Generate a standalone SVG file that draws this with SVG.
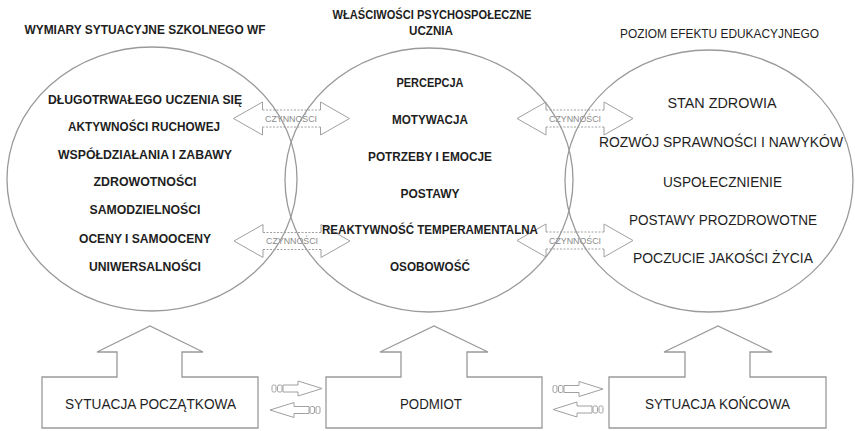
<svg xmlns="http://www.w3.org/2000/svg" width="855" height="431" viewBox="0 0 855 431">
<style>
  .circ{fill:none;stroke:#9a9a9a;stroke-width:1.3}
  .box{fill:none;stroke:#9a9a9a;stroke-width:1.3;stroke-linejoin:miter}
  .t{font-family:"Liberation Sans",Arial,sans-serif;fill:#1e1e1e;text-anchor:middle;text-transform:uppercase}
  .b{font-weight:bold;font-size:12px}
  .r{font-size:14px}
  .lbl{font-family:"Liberation Sans",Arial,sans-serif;font-size:8.5px;fill:#8a8a8a;text-anchor:middle;text-transform:uppercase}
  .ah{fill:none;stroke:#a0a0a0;stroke-width:1}
  .ad{fill:none;stroke:#a0a0a0;stroke-width:1;stroke-dasharray:2 1.5}
  .sa{fill:#fff;stroke:#a0a0a0;stroke-width:1}
</style>
<defs>
  <g id="dbl">
    <path class="ah" d="M-29,-8.5 V-16.5 L-58,0 L-29,16.5 V8.5 M29,-8.5 V-16.5 L58,0 L29,16.5 V8.5"/>
    <path class="ad" d="M-29,-8.5 H29 M-29,8.5 H29"/>
  </g>
  <g id="small">
    <rect class="sa" x="0" y="-3.5" width="4" height="7" rx="1.5"/>
    <rect class="sa" x="5.5" y="-3.5" width="4.5" height="7" rx="1.5"/>
    <path class="sa" d="M11,-3.5 H26 V-7.5 L50,0 L26,7.5 V3.5 H11 Z"/>
  </g>
</defs>

<g id="connectors">
  <use href="#dbl" transform="translate(291.5,118.5)"/>
  <use href="#dbl" transform="translate(575,118.5)"/>
  <use href="#dbl" transform="translate(292,241)"/>
  <use href="#dbl" transform="translate(575,240.5)"/>
  <text class="lbl" x="291" y="121.5" textLength="52" lengthAdjust="spacingAndGlyphs">CZYNNOŚCI</text>
  <text class="lbl" x="575" y="121.5" textLength="52" lengthAdjust="spacingAndGlyphs">CZYNNOŚCI</text>
  <text class="lbl" x="292" y="244" textLength="52" lengthAdjust="spacingAndGlyphs">CZYNNOŚCI</text>
  <text class="lbl" x="575" y="243.5" textLength="52" lengthAdjust="spacingAndGlyphs">CZYNNOŚCI</text>
  <use href="#small" transform="translate(272,388.5)"/>
  <use href="#small" transform="translate(320,410) scale(-1,1)"/>
  <use href="#small" transform="translate(553,389)"/>
  <use href="#small" transform="translate(603,409.5) scale(-1,1)"/>
</g>

<g id="circle-left">
  <ellipse class="circ" cx="152" cy="179" rx="145" ry="132"/>
  <text class="t b" x="145" y="34" textLength="241" lengthAdjust="spacingAndGlyphs">WYMIARY SYTUACYJNE SZKOLNEGO WF</text>
  <text class="t b" x="145" y="104" textLength="194" lengthAdjust="spacingAndGlyphs">DŁUGOTRWAŁEGO UCZENIA SIĘ</text>
  <text class="t b" x="144" y="131" textLength="152" lengthAdjust="spacingAndGlyphs">AKTYWNOŚCI RUCHOWEJ</text>
  <text class="t b" x="145" y="159" textLength="174" lengthAdjust="spacingAndGlyphs">WSPÓŁDZIAŁANIA I ZABAWY</text>
  <text class="t b" x="145" y="186" textLength="103" lengthAdjust="spacingAndGlyphs">ZDROWOTNOŚCI</text>
  <text class="t b" x="145" y="214" textLength="111" lengthAdjust="spacingAndGlyphs">SAMODZIELNOŚCI</text>
  <text class="t b" x="145" y="243" textLength="132" lengthAdjust="spacingAndGlyphs">OCENY I SAMOOCENY</text>
  <text class="t b" x="145" y="271" textLength="112" lengthAdjust="spacingAndGlyphs">UNIWERSALNOŚCI</text>
</g>

<g id="circle-middle">
  <ellipse class="circ" cx="429" cy="180" rx="144" ry="132"/>
  <text class="t b" x="432" y="19" font-size="11.5" textLength="199" lengthAdjust="spacingAndGlyphs">WŁAŚCIWOŚCI PSYCHOSPOŁECZNE</text>
  <text class="t b" x="431" y="35" font-size="11.5" textLength="44" lengthAdjust="spacingAndGlyphs">UCZNIA</text>
  <text class="t b" x="430" y="87" textLength="67" lengthAdjust="spacingAndGlyphs">PERCEPCJA</text>
  <text class="t b" x="430" y="124" textLength="76" lengthAdjust="spacingAndGlyphs">MOTYWACJA</text>
  <text class="t b" x="430" y="161" textLength="124" lengthAdjust="spacingAndGlyphs">POTRZEBY I EMOCJE</text>
  <text class="t b" x="430" y="198" textLength="59" lengthAdjust="spacingAndGlyphs">POSTAWY</text>
  <text class="t b" x="430" y="234" textLength="216" lengthAdjust="spacingAndGlyphs">REAKTYWNOŚĆ TEMPERAMENTALNA</text>
  <text class="t b" x="430" y="271" textLength="80" lengthAdjust="spacingAndGlyphs">OSOBOWOŚĆ</text>
</g>

<g id="circle-right">
  <ellipse class="circ" cx="709" cy="181" rx="144" ry="131"/>
  <text class="t" x="719.5" y="38" font-size="12" textLength="199" lengthAdjust="spacingAndGlyphs">POZIOM EFEKTU EDUKACYJNEGO</text>
  <text class="t r" x="722" y="108" textLength="109" lengthAdjust="spacingAndGlyphs">STAN ZDROWIA</text>
  <text class="t r" x="721" y="147" textLength="244" lengthAdjust="spacingAndGlyphs">ROZWÓJ SPRAWNOŚCI I NAWYKÓW</text>
  <text class="t r" x="722.5" y="187" textLength="119" lengthAdjust="spacingAndGlyphs">USPOŁECZNIENIE</text>
  <text class="t r" x="723" y="225" textLength="188" lengthAdjust="spacingAndGlyphs">POSTAWY PROZDROWOTNE</text>
  <text class="t r" x="723" y="263" textLength="180" lengthAdjust="spacingAndGlyphs">POCZUCIE JAKOŚCI ŻYCIA</text>
</g>

<g id="box-start">
  <path class="box" d="M42,377 H117 V352 H97 L150,326 L203,352 H182 V377 H258 V428 H42 Z"/>
  <text class="t r" x="150.5" y="409" textLength="171" lengthAdjust="spacingAndGlyphs">SYTUACJA POCZĄTKOWA</text>
</g>

<g id="box-subject">
  <path class="box" d="M326,377 H401 V352 H380 L434,326 L488,352 H467 V377 H542 V428 H326 Z"/>
  <text class="t r" x="431" y="409" textLength="62" lengthAdjust="spacingAndGlyphs">PODMIOT</text>
</g>

<g id="box-end">
  <path class="box" d="M609,377 H685 V352 H664 L718,326 L772,352 H750 V377 H826 V428 H609 Z"/>
  <text class="t r" x="717.5" y="409" textLength="145" lengthAdjust="spacingAndGlyphs">SYTUACJA KOŃCOWA</text>
</g>
</svg>
